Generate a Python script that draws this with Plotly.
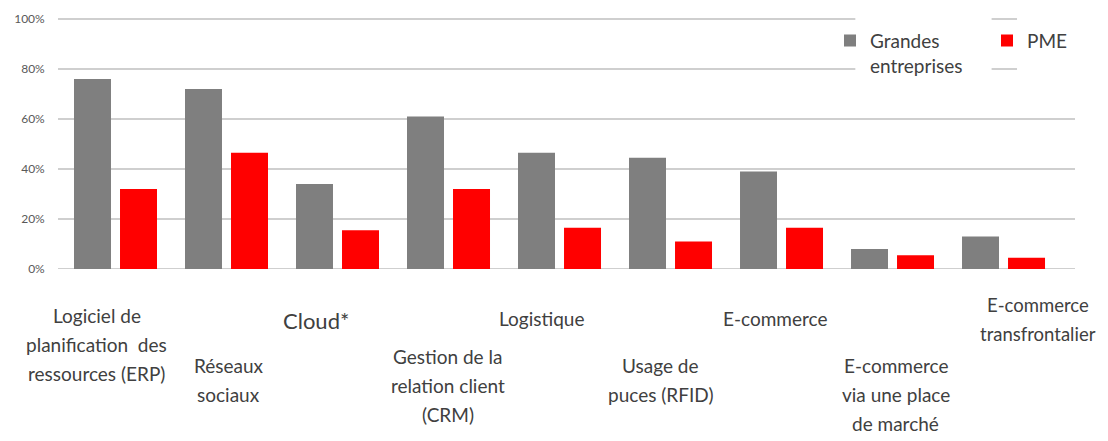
import plotly.graph_objects as go

categories = [
    "Logiciel de<br>planification  des<br>ressources (ERP)",
    "Réseaux<br>sociaux",
    "Cloud*",
    "Gestion de la<br>relation client<br>(CRM)",
    "Logistique",
    "Usage de<br>puces (RFID)",
    "E-commerce",
    "E-commerce<br>via une place<br>de marché",
    "E-commerce<br>transfrontalier",
]
grandes = [76, 72, 34, 61, 46.5, 44.5, 39, 8, 13]
pme = [32, 46.5, 15.5, 32, 16.5, 11, 16.5, 5.5, 4.5]
y_ticks = [0, 20, 40, 60, 80, 100]
y_ticktext = ["0%", "20%", "40%", "60%", "80%", "100%"]

# label placement (pixel offsets): first-line distance below axis, horizontal shift, font size
label_dy = [46, 96, 51, 87, 49, 96, 49, 96, 36]
label_dx = [-19, 2, -22, -1, -18, -10, -7, 3, 34]
label_fs = [19, 19, 22, 19, 19, 19, 19, 19, 18.5]
LINE = 29

GRAY = "#7f7f7f"
RED = "#ff0000"
GRID = "#cfcfcf"
FONT = "Lato"
TXT = "#404040"

# page body adds an 8px offset; figure is sized to compensate
W, H = 1100, 433
L, T, R, B = 50, 10, 33, 172
PW = W - L - R

fig = go.Figure()
fig.add_trace(go.Bar(x=list(range(len(categories))), y=grandes, name="Grandes<br>entreprises",
                     marker=dict(color=GRAY, line=dict(width=0))))
fig.add_trace(go.Bar(x=list(range(len(categories))), y=pme, name="PME",
                     marker=dict(color=RED, line=dict(width=0))))

annotations = []
for i, lab in enumerate(categories):
    for k, line in enumerate(lab.split("<br>")):
        annotations.append(dict(
            x=i, y=0, xref="x", yref="y", text=line, showarrow=False,
            xanchor="center", yanchor="middle",
            xshift=label_dx[i], yshift=-(label_dy[i] + k * LINE),
            font=dict(family=FONT, size=label_fs[i], color=TXT),
        ))

# gridlines drawn as shapes below bars; the top two are interrupted behind the legend
shapes = []
for v in y_ticks:
    if v >= 80:
        segs = [(0, 0.784), (0.918, 0.943)]
    else:
        segs = [(0, 1)]
    for a, b in segs:
        shapes.append(dict(type="line", xref="x domain", yref="y", x0=a, x1=b, y0=v, y1=v,
                           line=dict(color=GRID, width=2), layer="below"))

fig.update_layout(
    width=W, height=H,
    margin=dict(l=L, r=R, t=T, b=B, pad=0, autoexpand=False),
    paper_bgcolor="white", plot_bgcolor="white",
    barmode="group", bargap=0.171, bargroupgap=0.196,
    font=dict(family=FONT, color=TXT),
    xaxis=dict(range=[-0.518, 8.644], showticklabels=False, showgrid=False,
               zeroline=False, showline=False, ticks=""),
    yaxis=dict(range=[0, 100.4], tickvals=y_ticks, ticktext=[t + "    " for t in y_ticktext],
               showgrid=False, zeroline=False, showline=False, ticks="",
               tickfont=dict(family=FONT, size=12, color="#595959")),
    legend=dict(orientation="h", x=(822 - L) / PW, y=0.985, xanchor="left", yanchor="top",
                entrywidth=112, entrywidthmode="pixels",
                bgcolor="rgba(0,0,0,0)", valign="top",
                font=dict(family=FONT, size=19, color=TXT)),
    annotations=annotations,
    shapes=shapes,
)

fig.write_html("out.html")
